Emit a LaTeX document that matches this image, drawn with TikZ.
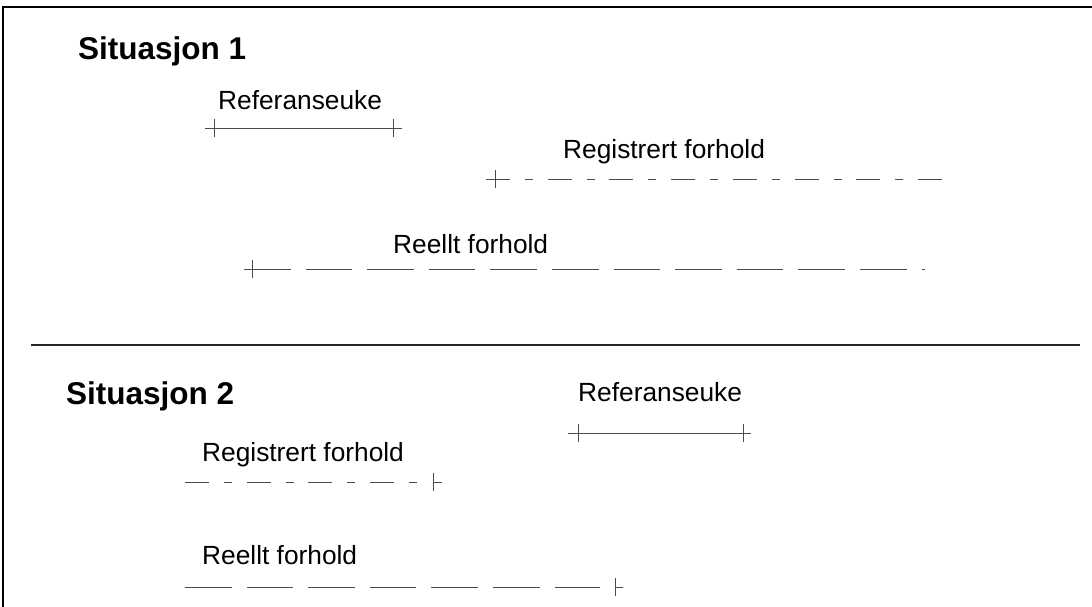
\documentclass[tikz,border=0pt]{standalone}
\usepackage{fontspec}
\setmainfont{Liberation Sans}
\begin{document}
\begin{tikzpicture}[x=1pt,y=-1pt,
  title/.style={font=\fontsize{31.5}{36}\selectfont\bfseries, inner sep=0pt, anchor=base west},
  lbl/.style={font=\fontsize{26.3}{30}\selectfont, inner sep=0pt, anchor=base west},
  period/.style={draw=black!70, line width=0.9pt},
  refline/.style={period},
  regline/.style={period, dash pattern=on 24pt off 15pt on 8pt off 14.7pt},
  reelline/.style={period, dash pattern=on 46.6pt off 15pt},
  tickmark/.style={draw=black!70, line width=0.9pt},
  frameline/.style={draw=black, line width=2.2pt},
  sepline/.style={draw=black!85, line width=1.3pt}
]
\useasboundingbox (0,0) rectangle (1092,607);
% frame
\coordinate (fbl) at (3,608);
\coordinate (ftl) at (3,7);
\coordinate (ftr) at (1093,7);
\draw[frameline] (fbl) -- (ftl) -- (ftr);
% separator
\coordinate (sepL) at (31,345);
\coordinate (sepR) at (1080,345);
\draw[sepline] (sepL) -- (sepR);

% ---------- Situasjon 1
\node[title] (s1) at (78,60) {Situasjon 1};
\node[lbl] (ref1lbl) at (218,110) {Referanseuke};
\coordinate (r1a) at (205,128);
\coordinate (r1b) at (402,128);
\draw[refline] (r1a) -- (r1b);
\coordinate (r1t1) at (214,128);
\coordinate (r1t2) at (393,128);
\draw[tickmark] ([yshift=-9pt]r1t1) -- ([yshift=9pt]r1t1);
\draw[tickmark] ([yshift=-9pt]r1t2) -- ([yshift=9pt]r1t2);

\node[lbl] (reg1lbl) at (563,158) {Registrert forhold};
\coordinate (g1a) at (486,179);
\coordinate (g1b) at (942,179);
\draw[regline] (g1a) -- (g1b);
\coordinate (g1t) at (495,179);
\draw[tickmark] ([yshift=-9pt]g1t) -- ([yshift=9pt]g1t);

\node[lbl] (reel1lbl) at (393,253) {Reellt forhold};
\coordinate (e1a) at (244,269);
\coordinate (e1b) at (925,269);
\draw[reelline] (e1a) -- (e1b);
\coordinate (e1t) at (252,269);
\draw[tickmark] ([yshift=-9pt]e1t) -- ([yshift=9pt]e1t);

% ---------- Situasjon 2
\node[title] (s2) at (66,404) {Situasjon 2};
\node[lbl] (ref2lbl) at (578,401) {Referanseuke};
\coordinate (r2a) at (568,433);
\coordinate (r2b) at (751,433);
\draw[refline] (r2a) -- (r2b);
\coordinate (r2t1) at (578,433);
\coordinate (r2t2) at (743,433);
\draw[tickmark] ([yshift=-9pt]r2t1) -- ([yshift=9pt]r2t1);
\draw[tickmark] ([yshift=-9pt]r2t2) -- ([yshift=9pt]r2t2);

\node[lbl] (reg2lbl) at (202,461) {Registrert forhold};
\coordinate (g2a) at (185,482);
\coordinate (g2b) at (417,482);
\draw[regline] (g2a) -- (g2b);
\coordinate (g2t) at (433,482);
\coordinate (g2e) at (442,482);
\draw[tickmark] ([yshift=-9pt]g2t) -- ([yshift=9pt]g2t);
\draw[refline] (g2t) -- (g2e);

\node[lbl] (reel2lbl) at (202,564) {Reellt forhold};
\coordinate (e2a) at (185,587);
\coordinate (e2b) at (600,587);
\draw[reelline] (e2a) -- (e2b);
\coordinate (e2t) at (615,587);
\coordinate (e2e) at (623,587);
\draw[tickmark] ([yshift=-9pt]e2t) -- ([yshift=9pt]e2t);
\draw[refline] (e2t) -- (e2e);
\end{tikzpicture}
\end{document}
